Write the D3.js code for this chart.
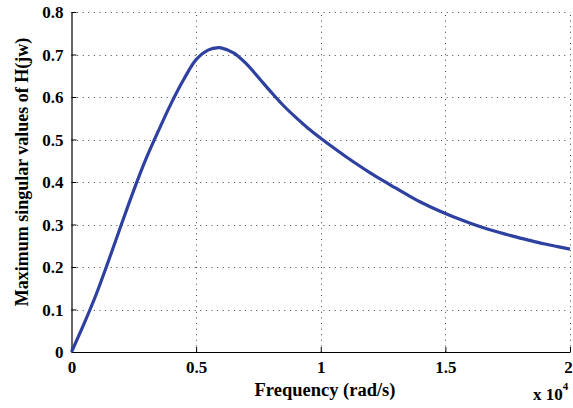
<!DOCTYPE html>
<html>
<head>
<meta charset="utf-8">
<script src="https://cdn.jsdelivr.net/npm/d3@7"></script>
<style>
  html, body { margin: 0; padding: 0; background: #fff; }
  svg { display: block; }
  text { font-family: "Liberation Serif", "Times New Roman", serif; font-weight: bold; fill: #000; }
</style>
</head>
<body>
<svg id="chart" width="573" height="408"></svg>
<script>
// Frequency (rad/s) and maximum singular value
const frequency = [0, 500, 1000, 1500, 2000, 2500, 3000, 3500, 4000, 4500, 5000, 5500, 5900, 6000, 6500, 7000, 7500, 8000, 8500, 9000, 9500, 10000, 10500, 11000, 11500, 12000, 12500, 13000, 13500, 14000, 14500, 15000, 15500, 16000, 16500, 17000, 17500, 18000, 18500, 19000, 19500, 20000];
const singularValue = [0, 0.066, 0.137, 0.217, 0.300, 0.381, 0.456, 0.522, 0.585, 0.641, 0.688, 0.711, 0.716, 0.7155, 0.704, 0.679, 0.646, 0.612, 0.580, 0.552, 0.526, 0.503, 0.481, 0.460, 0.440, 0.421, 0.403, 0.386, 0.369, 0.353, 0.339, 0.326, 0.314, 0.303, 0.293, 0.284, 0.276, 0.268, 0.261, 0.254, 0.248, 0.242];
const xTicks = [0, 5000, 10000, 15000, 20000];
const xTickLabels = ["0", "0.5", "1", "1.5", "2"];
const yTicks = [0, 0.1, 0.2, 0.3, 0.4, 0.5, 0.6, 0.7, 0.8];
const yTickLabels = ["0", "0.1", "0.2", "0.3", "0.4", "0.5", "0.6", "0.7", "0.8"];
const xLabel = "Frequency (rad/s)";
const yLabel = "Maximum singular values of H(jw)";

const svg = d3.select("#chart");
const mLeft = 71.5, mRight = 570, mTop = 12, mBottom = 352;
const x = d3.scaleLinear().domain([0, 20000]).range([mLeft, mRight]);
const y = d3.scaleLinear().domain([0, 0.8]).range([mBottom, mTop]);

// grid (dotted)
const grid = svg.append("g").attr("stroke", "#444").attr("stroke-width", 1).attr("stroke-dasharray", "1 4.6");
grid.selectAll("line.v").data(xTicks.slice(1)).enter().append("line")
  .attr("x1", d => Math.round(x(d)) + 0.5).attr("x2", d => Math.round(x(d)) + 0.5)
  .attr("y1", mBottom).attr("y2", mTop);
grid.selectAll("line.h").data(yTicks.slice(1)).enter().append("line")
  .attr("y1", d => Math.round(y(d)) + 0.5).attr("y2", d => Math.round(y(d)) + 0.5)
  .attr("x1", mLeft).attr("x2", mRight);

// axes
const xAxis = d3.axisBottom(x).tickValues(xTicks).tickFormat((d, i) => xTickLabels[i]).tickSizeInner(-5).tickSizeOuter(0).tickPadding(9);
const yAxis = d3.axisLeft(y).tickValues(yTicks).tickFormat((d, i) => yTickLabels[i]).tickSizeInner(-5).tickSizeOuter(0).tickPadding(8);

const gx = svg.append("g").attr("transform", `translate(0,${mBottom})`).call(xAxis);
const gy = svg.append("g").attr("transform", `translate(${mLeft},0)`).call(yAxis);
[gx, gy].forEach(g => {
  g.select(".domain").attr("stroke", "#000").attr("stroke-width", 1.2);
  g.selectAll(".tick line").attr("stroke", "#000");
  g.selectAll("text").style("font-size", "17px").style("font-family", "Liberation Serif, serif").style("font-weight", "bold");
});
gy.selectAll("text").attr("dy", "0.35em");
gx.selectAll(".tick text").filter(d => d === 20000).attr("dx", -2);

// curve
const line = d3.line().x((d, i) => x(frequency[i])).y(d => y(d)).curve(d3.curveCatmullRom);
svg.append("path").datum(singularValue)
  .attr("fill", "none").attr("stroke", "#2e40a0").attr("stroke-width", 3.2)
  .attr("stroke-linejoin", "round").attr("d", line);

// labels
svg.append("text").attr("x", 325).attr("y", 396).attr("text-anchor", "middle")
  .style("font-size", "18.5px").text(xLabel);
svg.append("text").attr("transform", "translate(28,172) rotate(-90)").attr("text-anchor", "middle")
  .style("font-size", "18px").text(yLabel);
const ex = svg.append("text").attr("x", 533).attr("y", 400).style("font-size", "17px");
ex.append("tspan").text("x 10");
ex.append("tspan").attr("dy", -10).style("font-size", "11px").text("4");
</script>
</body>
</html>
